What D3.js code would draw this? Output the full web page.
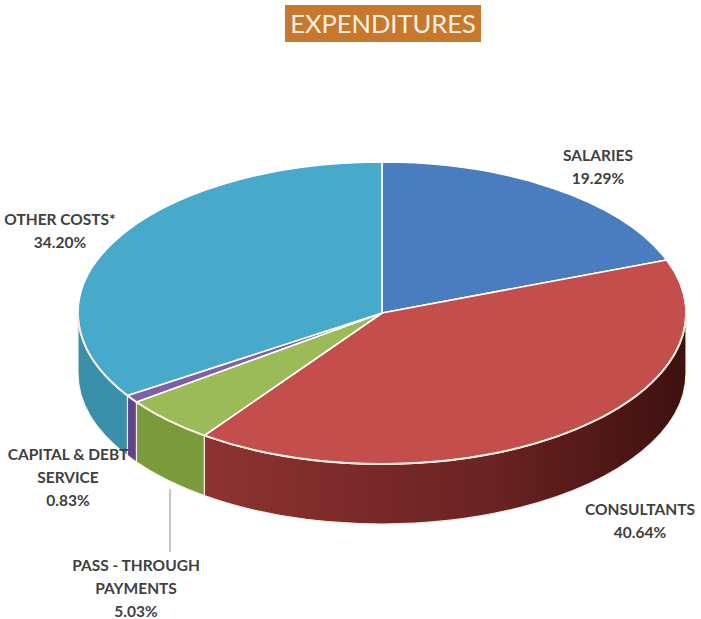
<!DOCTYPE html>
<html>
<head>
<meta charset="utf-8">
<script src="https://cdn.jsdelivr.net/npm/d3@7"></script>
<style>
  body { margin: 0; background: #fff; }
  text { font-family: Lato, "Open Sans", sans-serif; }
</style>
</head>
<body>
<script>
// data
const categories = ['SALARIES', 'CONSULTANTS', 'PASS - THROUGH PAYMENTS', 'CAPITAL & DEBT SERVICE', 'OTHER COSTS*'];
const values = [19.29, 40.64, 5.03, 0.83, 34.20];
const pctLabels = ['19.29%', '40.64%', '5.03%', '0.83%', '34.20%'];
const topColors = ['#4a7dc0', '#c44e4b', '#9bbb59', '#7f5fa6', '#48aacb'];
const sideColors = ['#34598c', '#7c2c2a', '#7a9a3c', '#5f4486', '#3a8fab'];

const width = 701, height = 619;

const svg = d3.select('body').append('svg')
    .attr('width', width)
    .attr('height', height);

// pie geometry (tilted ellipse)
const cx = 382, cy = 313, rx = 304, ry = 151, depth = 60;

const xScale = d3.scaleLinear().domain([-1, 1]).range([cx - rx, cx + rx]);
const yScale = d3.scaleLinear().domain([-1, 1]).range([cy + ry, cy - ry]);

function pt(a, dy) {
    return [xScale(Math.sin(a)), yScale(Math.cos(a)) + (dy || 0)];
}

const pie = d3.pie().sort(null).value(d => d.v);
const slices = pie(values.map((v, i) => ({v: v, i: i})));

// red side gradient
const defs = svg.append('defs');
const grad = defs.append('linearGradient')
    .attr('id', 'redSide')
    .attr('x1', '0%').attr('x2', '100%').attr('y1', '0%').attr('y2', '0%');
grad.append('stop').attr('offset', '0%').attr('stop-color', '#8e3331');
grad.append('stop').attr('offset', '60%').attr('stop-color', '#6a2222');
grad.append('stop').attr('offset', '100%').attr('stop-color', '#3e1010');

// outer walls (front half only)
const sides = svg.append('g').classed('sides', true);
slices.forEach(s => {
    const a0 = Math.max(s.startAngle, Math.PI / 2);
    const a1 = Math.min(s.endAngle, 3 * Math.PI / 2);
    if (a0 >= a1) return;
    const p0 = pt(a0), p1 = pt(a1), q1 = pt(a1, depth), q0 = pt(a0, depth);
    const large = (a1 - a0) > Math.PI ? 1 : 0;
    const path = `M${p0[0]},${p0[1]} A${rx},${ry} 0 ${large} 1 ${p1[0]},${p1[1]}` +
        ` L${q1[0]},${q1[1]} A${rx},${ry} 0 ${large} 0 ${q0[0]},${q0[1]} Z`;
    sides.append('path')
        .attr('d', path)
        .attr('fill', s.data.i === 1 ? 'url(#redSide)' : sideColors[s.data.i])
        .attr('stroke', '#f4efe4')
        .attr('stroke-width', 1.2);
});

// top faces
const tops = svg.append('g').classed('tops', true);
slices.forEach(s => {
    const p0 = pt(s.startAngle), p1 = pt(s.endAngle);
    const large = (s.endAngle - s.startAngle) > Math.PI ? 1 : 0;
    tops.append('path')
        .attr('d', `M${cx},${cy} L${p0[0]},${p0[1]} A${rx},${ry} 0 ${large} 1 ${p1[0]},${p1[1]} Z`)
        .attr('fill', topColors[s.data.i])
        .attr('stroke', '#ffffff')
        .attr('stroke-width', 1.6)
        .attr('stroke-linejoin', 'round');
});

// cream rim along the front edge
const rimA = pt(Math.PI / 2), rimB = pt(3 * Math.PI / 2);
svg.append('path')
    .attr('d', `M${rimA[0]},${rimA[1]} A${rx},${ry} 0 0 1 ${rimB[0]},${rimB[1]}`)
    .attr('fill', 'none')
    .attr('stroke', '#f6eedd')
    .attr('stroke-width', 1.8);

// title
svg.append('rect')
    .attr('x', 285).attr('y', 5)
    .attr('width', 196).attr('height', 37)
    .attr('fill', '#c8782c');
svg.append('text')
    .attr('x', 383).attr('y', 33)
    .attr('text-anchor', 'middle')
    .attr('font-size', 25.5)
    .attr('fill', '#fbefe2')
    .text('EXPENDITURES');

// labels
const labelLines = [
    ['SALARIES', pctLabels[0]],
    ['CONSULTANTS', pctLabels[1]],
    ['PASS - THROUGH', 'PAYMENTS', pctLabels[2]],
    ['CAPITAL & DEBT', 'SERVICE', pctLabels[3]],
    ['OTHER COSTS*', pctLabels[4]]
];
const labelPos = [[598, 161], [640, 515], [136, 571], [68, 460], [60, 225]];

// leader line for pass-through
svg.append('line')
    .attr('x1', 170).attr('y1', 489)
    .attr('x2', 170).attr('y2', 552)
    .attr('stroke', '#a0a0a0')
    .attr('stroke-width', 1.2);

const labels = svg.append('g').classed('labels', true);
labelLines.forEach((lines, i) => {
    const t = labels.append('text')
        .attr('text-anchor', 'middle')
        .attr('font-size', 15.5)
        .attr('font-weight', 'bold')
        .attr('fill', '#404040');
    lines.forEach((l, j) => {
        t.append('tspan')
            .attr('x', labelPos[i][0])
            .attr('y', labelPos[i][1] + j * 23)
            .text(l);
    });
});
</script>
</body>
</html>
